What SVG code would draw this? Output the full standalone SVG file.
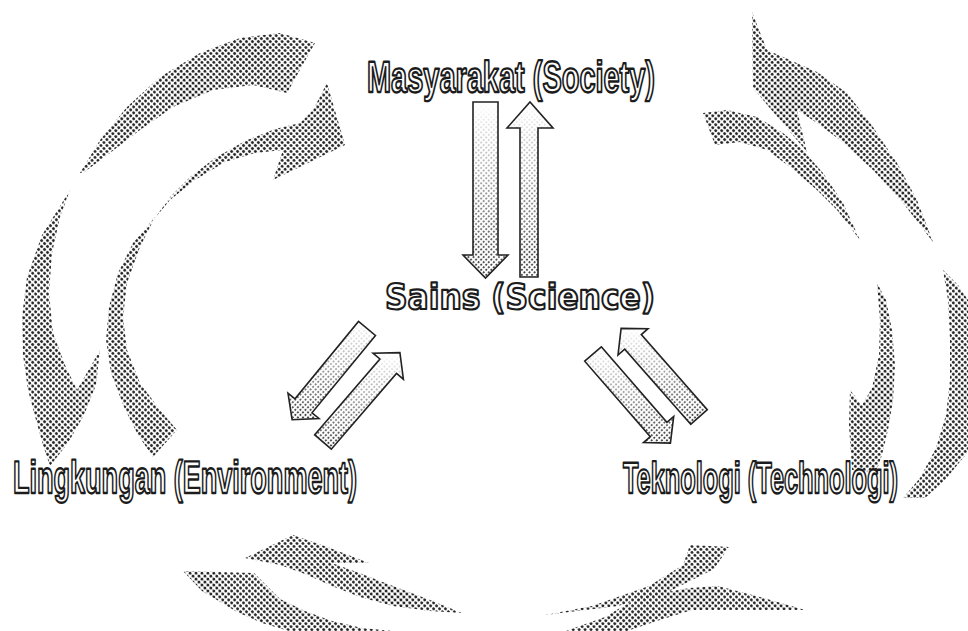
<svg xmlns="http://www.w3.org/2000/svg" xmlns:xlink="http://www.w3.org/1999/xlink" width="968" height="631" viewBox="0 0 968 631">
<defs>
<style>
.lbl{font-family:"Liberation Sans Narrow","Liberation Sans",Arial,sans-serif;font-weight:bold;fill:#fff;stroke:#1c1c1c;stroke-width:2.4;stroke-linejoin:round;text-rendering:geometricPrecision}
.sains{font-family:"DejaVu Sans","Liberation Sans",sans-serif;font-weight:bold;fill:#fff;stroke:#1c1c1c;stroke-width:2.2;stroke-linejoin:round;text-rendering:geometricPrecision}
.band{fill:url(#ht)}
.base{fill:#fff}
.shade{fill:url(#ht2)}
.edge{fill:none;stroke:#222;stroke-width:1.6;stroke-linejoin:miter}
</style>
<pattern id="ht" width="4.2" height="4.2" patternUnits="userSpaceOnUse" patternTransform="rotate(45)">
<circle cx="2.1" cy="2.1" r="1.5" fill="#262626"/>
</pattern>
<pattern id="ht2" width="3.6" height="3.6" patternUnits="userSpaceOnUse" patternTransform="rotate(45)">
<circle cx="1.8" cy="1.8" r="1.05" fill="#333"/>
</pattern>
<linearGradient id="fg" x1="0" y1="0" x2="0" y2="1">
<stop offset="0" stop-color="#000"/>
<stop offset="0.12" stop-color="#222"/>
<stop offset="1" stop-color="#fff"/>
</linearGradient>
<mask id="fade" maskContentUnits="objectBoundingBox">
<rect width="1" height="1" fill="url(#fg)"/>
</mask>
<polygon id="vDown" points="473,102 498,102 498,255 508,255 485.5,278 463,255 473,255"/>
<polygon id="vUp" points="520,277 538,277 538,128 553,128 530,102 507,128 520,128"/>
<polygon id="dLdown" points="375.5,335.5 312,412.8 319,418.5 292.1,419.7 288,393.1 295,398.8 358.5,321.5"/>
<polygon id="dLup" points="314.7,434.8 379.9,359 373,353.2 399.9,352.6 403.4,379.2 396.5,373.4 331.3,449.2"/>
<polygon id="dRdown" points="601.3,346.8 666.9,422.3 673.7,416.4 670.4,443.1 643.5,442.6 650.3,436.7 584.7,361.2"/>
<polygon id="dRup" points="690.7,424.3 624.7,349.2 618,355.1 621.1,328.4 648,328.7 641.3,334.6 707.3,409.7"/>
</defs>
<rect width="968" height="631" fill="#fff"/>

<g id="connectors">
<g id="cycle-bands">
<path class="band" d="M80,173 L100,140 L127,107 L160,77 L200,53 L240,38 L280,33 L315,43 L287,93 L253,85 L213,90 L173,107 L140,130 L110,153 L83,173 Z"/>
<path class="band" d="M70,190 L60,217 L52,253 L49,293 L53,333 L65,365 L77,390 L100,350 L96,385 L84,415 L68,443 L50,466 L43,445 L36,420 L28,390 L23,355 L22,317 L27,277 L42,235 Z"/>
<path class="band" d="M155,217 L140,247 L127,283 L123,317 L127,350 L140,383 L160,410 L177,430 L153,457 L138,435 L124,407 L111,373 L106,340 L109,307 L118,273 L133,243 Z"/>
<path class="band" d="M155,218 L170,197 L190,177 L215,158 L245,141 L275,129 L300,123 L313,110 L327,83 L345,145 L273,180 L283,150 L255,153 L225,162 L195,180 L170,200 Z"/>
<path class="band" d="M752,12 L767,50 L790,60 L817,72 L847,93 L873,127 L897,163 L917,200 L933,242 L903,203 L873,170 L840,140 L817,123 L797,110 L807,152 L753,88 Z"/>
<path class="band" d="M703,113 L727,110 L757,117 L783,133 L800,147 L823,173 L843,203 L860,240 L837,210 L817,190 L790,167 L767,150 L740,142 L715,145 Z"/>
<path class="band" d="M877,283 L886,300 L892,330 L895,365 L893,400 L888,430 L882,455 L876,472 L852,470 L849,425 L850,390 L862,405 L872,388 L879,355 L880,320 Z"/>
<path class="band" d="M943,270 L948,300 L950,340 L950,380 L946,415 L936,448 L920,478 L903,498 L925,498 L945,480 L968,452 L968,300 L958,285 Z"/>
<path class="band" d="M245,558 L293,535 L330,548 L369,563 L332,563 L362,574 L393,586 L430,600 L462,613 L430,611 L393,606 L360,597 L332,586 L305,574 L280,565 Z"/>
<path class="band" d="M183,571 L254,573 L280,599 L305,611 L332,621 L362,628 L393,631 L289,631 L262,623 L237,612 L202,591 Z"/>
<path class="band" d="M545,615 L592,606 L649,586 L683,565 L690,545 L729,547 L714,569 L670,591 L618,606 Z"/>
<path class="band" d="M805,610 L760,597 L718,586 L690,588 L649,595 L625,605 L605,617 L566,631 L627,631 L660,620 L692,610 Z"/>
</g>
<g id="center-arrows">
<use xlink:href="#vDown" class="base"/><use xlink:href="#vDown" class="shade" mask="url(#fade)"/><use xlink:href="#vDown" class="edge"/>
<use xlink:href="#vUp" class="base"/><use xlink:href="#vUp" class="shade" mask="url(#fade)"/><use xlink:href="#vUp" class="edge"/>
<use xlink:href="#dLdown" class="base"/><use xlink:href="#dLdown" class="shade" mask="url(#fade)"/><use xlink:href="#dLdown" class="edge"/>
<use xlink:href="#dLup" class="base"/><use xlink:href="#dLup" class="shade" mask="url(#fade)"/><use xlink:href="#dLup" class="edge"/>
<use xlink:href="#dRdown" class="base"/><use xlink:href="#dRdown" class="shade" mask="url(#fade)"/><use xlink:href="#dRdown" class="edge"/>
<use xlink:href="#dRup" class="base"/><use xlink:href="#dRup" class="shade" mask="url(#fade)"/><use xlink:href="#dRup" class="edge"/>
</g>
</g>

<g id="masyarakat">
<text class="lbl" x="367" y="92" font-size="44" textLength="288" lengthAdjust="spacingAndGlyphs">Masyarakat (Society)</text>
</g>
<g id="sains">
<text class="sains" x="385" y="309" font-size="35" textLength="270" lengthAdjust="spacingAndGlyphs">Sains (Science)</text>
</g>
<g id="lingkungan">
<text class="lbl" x="13" y="493" font-size="46" textLength="344" lengthAdjust="spacingAndGlyphs">Lingkungan (Environment)</text>
</g>
<g id="teknologi">
<text class="lbl" x="623" y="493" font-size="44" textLength="275" lengthAdjust="spacingAndGlyphs">Teknologi (Technologi)</text>
</g>
</svg>
